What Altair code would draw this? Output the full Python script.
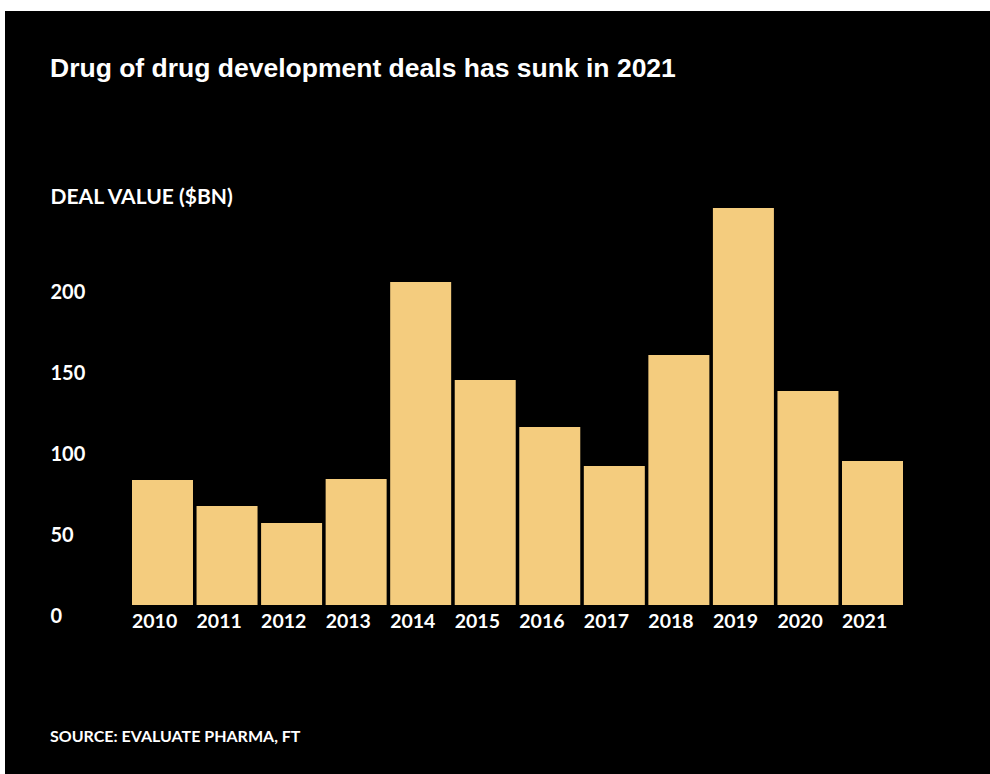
import altair as alt
import pandas as pd

years = ["2010", "2011", "2012", "2013", "2014", "2015", "2016", "2017", "2018", "2019", "2020", "2021"]
values = [77.2, 61.1, 50.6, 77.8, 199.4, 138.9, 109.9, 85.8, 154.3, 245.0, 132.1, 88.9]
y_ticks = [0, 50, 100, 150, 200]

TITLE = "Drug of drug development deals has sunk in 2021"
Y_TITLE = "DEAL VALUE ($BN)"
SOURCE = "SOURCE: EVALUATE PHARMA, FT"

LABEL_FONT = "Lato"
TITLE_FONT = "Liberation Sans"
BAR_COLOR = "#F4CC7E"

df = pd.DataFrame({"year": years, "value": values})

bg = alt.Chart(pd.DataFrame({"a": [0]})).mark_rect(color="black").encode(
    x=alt.value(-127), x2=alt.value(858), y=alt.value(-189), y2=alt.value(574)
)

bars = alt.Chart(df).mark_bar(color=BAR_COLOR).encode(
    x=alt.X(
        "year:O",
        sort=years,
        scale=alt.Scale(paddingInner=0.055, paddingOuter=0),
        axis=alt.Axis(
            title=None,
            domain=False,
            ticks=False,
            tickSize=0,
            zindex=1,
            labelAlign="left",
            labelOffset=-30.5,
            labelBaseline="alphabetic",
            labelPadding=22,
            labelFont=LABEL_FONT,
            labelFontSize=19.5,
            labelFontWeight="bold",
            labelColor="white",
            labelAngle=0,
            labelOverlap=False,
        ),
    ),
    y=alt.Y(
        "value:Q",
        scale=alt.Scale(domain=[0, 250], nice=False),
        axis=alt.Axis(
            title=Y_TITLE,
            values=y_ticks,
            domain=False,
            ticks=False,
            tickSize=0,
            grid=False,
            zindex=1,
            labelAlign="left",
            labelPadding=82,
            labelOffset=17.5,
            labelBaseline="alphabetic",
            labelFont=LABEL_FONT,
            labelFontSize=20,
            labelFontWeight="bold",
            labelColor="white",
            titleAngle=0,
            titleAlign="left",
            titleBaseline="alphabetic",
            titleX=-82,
            titleY=3,
            titleFont=LABEL_FONT,
            titleFontSize=21,
            titleFontWeight="bold",
            titleColor="white",
        ),
    ),
)

title = alt.Chart(pd.DataFrame({"t": [TITLE]})).mark_text(
    align="left", baseline="alphabetic", font=TITLE_FONT, fontSize=26.5,
    fontWeight="bold", color="white"
).encode(x=alt.value(-82), y=alt.value(-123), text="t:N")

source = alt.Chart(pd.DataFrame({"t": [SOURCE]})).mark_text(
    align="left", baseline="alphabetic", font=LABEL_FONT, fontSize=16,
    fontWeight="bold", color="white"
).encode(x=alt.value(-82), y=alt.value(542), text="t:N")

chart = alt.layer(bg, bars, title, source).properties(
    width=771,
    height=405,
    autosize=alt.AutoSizeParams(type="none"),
    padding={"left": 132, "top": 200, "right": 87, "bottom": 169},
    background="white",
).configure_view(stroke=None)

chart.save("out.html", embed_options={"renderer": "svg", "actions": False})
